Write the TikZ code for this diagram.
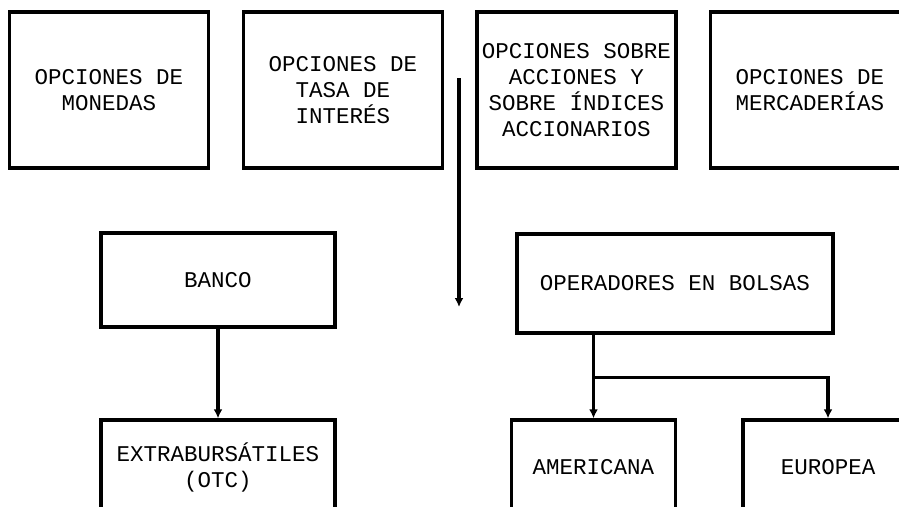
\documentclass[tikz,border=0pt]{standalone}
\usepackage{fontspec}
\newfontfamily\cajafont{Liberation Mono}
\usetikzlibrary{arrows.meta}
\tikzset{
  caja/.style={draw,line width=3.4pt,inner sep=0pt,align=center,
    font=\cajafont\fontsize{22.5}{26}\selectfont},
  flecha/.style={line width=3.2pt,-{Latex[length=9pt,width=9pt]}}
}

\begin{document}
\begin{tikzpicture}[x=1pt,y=-1pt]
  \clip (0,0) rectangle (899,506);
  \fill[white] (0,0) rectangle (899,506);
  % tipos de opciones
  \node[caja,minimum width=199,minimum height=156] (monedas) at (109,90) {OPCIONES DE\\MONEDAS};
  \node[caja,minimum width=199,minimum height=156] (tasa) at (343,90) {OPCIONES DE\\TASA DE\\INTERÉS};
  \node[caja,minimum width=199,minimum height=156] (acciones) at (576.5,90) {OPCIONES SOBRE\\ACCIONES Y\\SOBRE ÍNDICES\\ACCIONARIOS};
  \node[caja,minimum width=199,minimum height=156] (mercaderias) at (810,90) {OPCIONES DE\\MERCADERÍAS};
  \coordinate (arriba) at (459,78);
  \coordinate (abajo) at (459,307);
  \draw[flecha] (arriba) -- (abajo);
  % mercados
  \node[caja,minimum width=234,minimum height=94] (banco) at (218,280) {BANCO};
  \node[caja,minimum width=316,minimum height=99] (bolsas) at (675,283.5) {OPERADORES EN BOLSAS};
  \node[caja,minimum width=234,minimum height=94] (otc) at (218,467) {EXTRABURSÁTILES\\(OTC)};
  \node[caja,minimum width=164,minimum height=94] (americana) at (593.5,467) {AMERICANA};
  \node[caja,minimum width=170,minimum height=94] (europea) at (828,467) {EUROPEA};
  \draw[flecha] (banco.south) -- (otc.north);
  \draw[flecha] (bolsas.south -| americana.north) -- (americana.north);
  \draw[flecha] (bolsas.south -| americana.north) ++(0,43) -| (europea.north);
\end{tikzpicture}
\end{document}
